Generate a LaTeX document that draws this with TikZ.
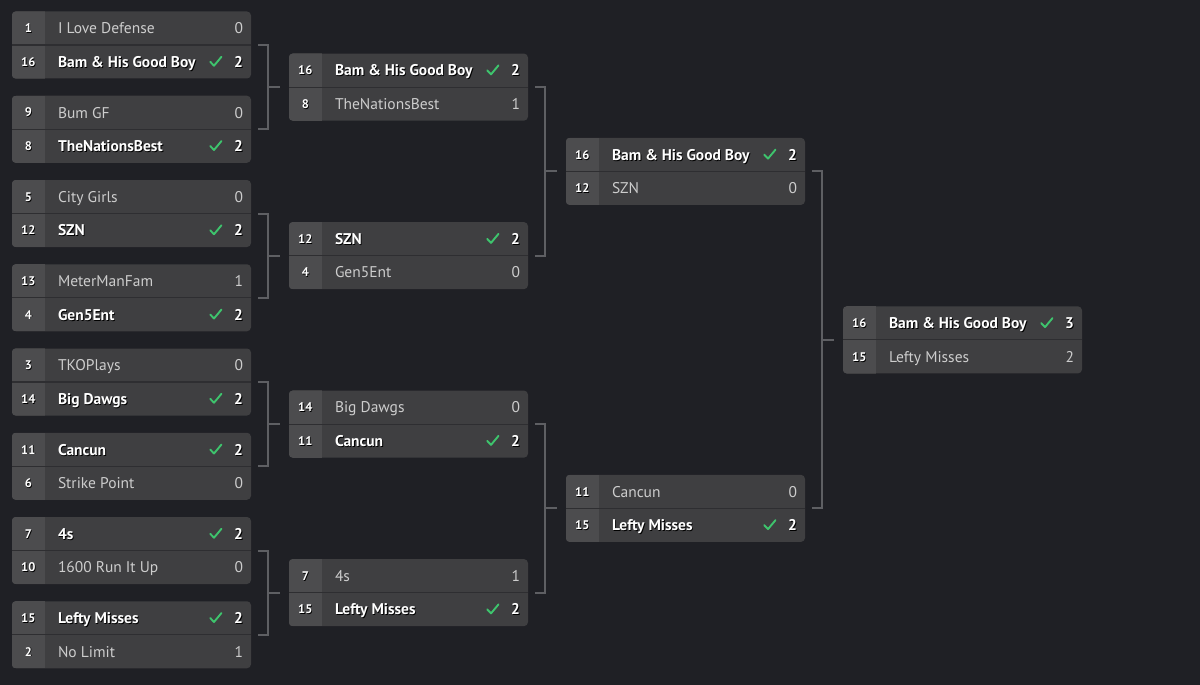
\documentclass[tikz,border=0pt]{standalone}
\usepackage{fontspec}
\setmainfont{PT Sans}
\usetikzlibrary{calc}
\definecolor{bg}{RGB}{31,32,37}
\definecolor{boxc}{RGB}{63,63,65}
\definecolor{seedc}{RGB}{76,76,78}
\definecolor{divc}{RGB}{46,46,49}
\definecolor{losec}{RGB}{205,205,205}
\definecolor{checkc}{RGB}{62,196,109}
\definecolor{connc}{RGB}{94,95,99}
\newcommand\sh[1]{\rlap{\kern0.9pt\raisebox{-0.9pt}{\textcolor{black}{#1}}}#1}
\def\winstr{win}
\tikzset{
  mbox/.style={rounded corners=4pt, fill=boxc, minimum width=239pt, minimum height=67pt, inner sep=0pt},
  seedtxt/.style={text=white, font=\fontsize{12.5}{13}\selectfont\bfseries, inner sep=0pt, anchor=base},
  winname/.style={text=white, font=\fontsize{15.5}{17}\selectfont\bfseries, inner sep=0pt, anchor=base west},
  losename/.style={text=losec, font=\fontsize{15.5}{17}\selectfont, inner sep=0pt, anchor=base west},
  winscore/.style={text=white, font=\fontsize{15.5}{17}\selectfont\bfseries, inner sep=0pt, anchor=base east},
  losescore/.style={text=losec, font=\fontsize{15.5}{17}\selectfont, inner sep=0pt, anchor=base east},
  conn/.style={draw=connc, line width=2pt},
  checkmark/.style={draw=checkc, line width=1.9pt, line cap=round, line join=round}
}
% #1 match, #2 row (1/2), #3 seed, #4 team, #5 score, #6 win/lose
\newcommand\matchrow[6]{%
  \ifnum#2=1 \def\rs{16.75pt}\else\def\rs{-16.75pt}\fi
  \def\kind{#6}%
  \node[seedtxt] (#1-s#2) at ([xshift=16.5pt,yshift=\rs-4.5pt]#1.west) {\sh{#3}};
  \ifx\kind\winstr
    \node[winname] (#1-t#2) at ([xshift=46pt,yshift=\rs-5.6pt]#1.west) {\sh{#4}};
    \node[winscore] (#1-c#2) at ([xshift=-8pt,yshift=\rs-5.6pt]#1.east) {\sh{#5}};
    \draw[checkmark] ([xshift=-41pt,yshift=\rs]#1.east) -- ++(3.8pt,-4pt) -- ++(7.5pt,9pt);
  \else
    \node[losename] (#1-t#2) at ([xshift=46pt,yshift=\rs-5.6pt]#1.west) {#4};
    \node[losescore] (#1-c#2) at ([xshift=-8pt,yshift=\rs-5.6pt]#1.east) {#5};
  \fi
}
\newcommand\match[9]{%
  \node[mbox] (#1) at (#2+119.5,#3) {};
  \begin{scope}
    \clip[rounded corners=4pt] (#1.south west) rectangle (#1.north east);
    \fill[seedc] (#1.south west) rectangle ([xshift=33pt]#1.north west);
    \draw[divc, line width=1.2pt] (#1.west) -- (#1.east);
  \end{scope}
  \ifnum#6>#9
    \matchrow{#1}{1}{#4}{#5}{#6}{win}\matchrow{#1}{2}{#7}{#8}{#9}{lose}%
  \else
    \matchrow{#1}{1}{#4}{#5}{#6}{lose}\matchrow{#1}{2}{#7}{#8}{#9}{win}%
  \fi
}
\newcommand\bracket[3]{%
  \draw[conn] ([xshift=7pt]#1.east) -| ([xshift=17pt]#2.east) -- ([xshift=7pt]#2.east);
  \draw[conn] ($(#1.east)!0.5!(#2.east)+(17pt,0)$) -- ([xshift=-9pt]#3.west);
}
\begin{document}
\begin{tikzpicture}[x=1pt,y=-1pt]
\fill[bg] (0,0) rectangle (1200,685);
\useasboundingbox (0,0) rectangle (1200,685);
% Round 1
\match{a1}{12}{45}{1}{I Love Defense}{0}{16}{Bam \& His Good Boy}{2}
\match{a2}{12}{129.25}{9}{Bum GF}{0}{8}{TheNationsBest}{2}
\match{a3}{12}{213.5}{5}{City Girls}{0}{12}{SZN}{2}
\match{a4}{12}{297.75}{13}{MeterManFam}{1}{4}{Gen5Ent}{2}
\match{a5}{12}{382}{3}{TKOPlays}{0}{14}{Big Dawgs}{2}
\match{a6}{12}{466.25}{11}{Cancun}{2}{6}{Strike Point}{0}
\match{a7}{12}{550.5}{7}{4s}{2}{10}{1600 Run It Up}{0}
\match{a8}{12}{634.75}{15}{Lefty Misses}{2}{2}{No Limit}{1}
% Round 2
\match{b1}{289}{87.125}{16}{Bam \& His Good Boy}{2}{8}{TheNationsBest}{1}
\match{b2}{289}{255.625}{12}{SZN}{2}{4}{Gen5Ent}{0}
\match{b3}{289}{424.125}{14}{Big Dawgs}{0}{11}{Cancun}{2}
\match{b4}{289}{592.625}{7}{4s}{1}{15}{Lefty Misses}{2}
% Round 3
\match{c1}{566}{171.375}{16}{Bam \& His Good Boy}{2}{12}{SZN}{0}
\match{c2}{566}{508.375}{11}{Cancun}{0}{15}{Lefty Misses}{2}
% Final
\match{d1}{843}{339.875}{16}{Bam \& His Good Boy}{3}{15}{Lefty Misses}{2}
% Connectors
\bracket{a1}{a2}{b1}
\bracket{a3}{a4}{b2}
\bracket{a5}{a6}{b3}
\bracket{a7}{a8}{b4}
\bracket{b1}{b2}{c1}
\bracket{b3}{b4}{c2}
\bracket{c1}{c2}{d1}
\end{tikzpicture}
\end{document}
